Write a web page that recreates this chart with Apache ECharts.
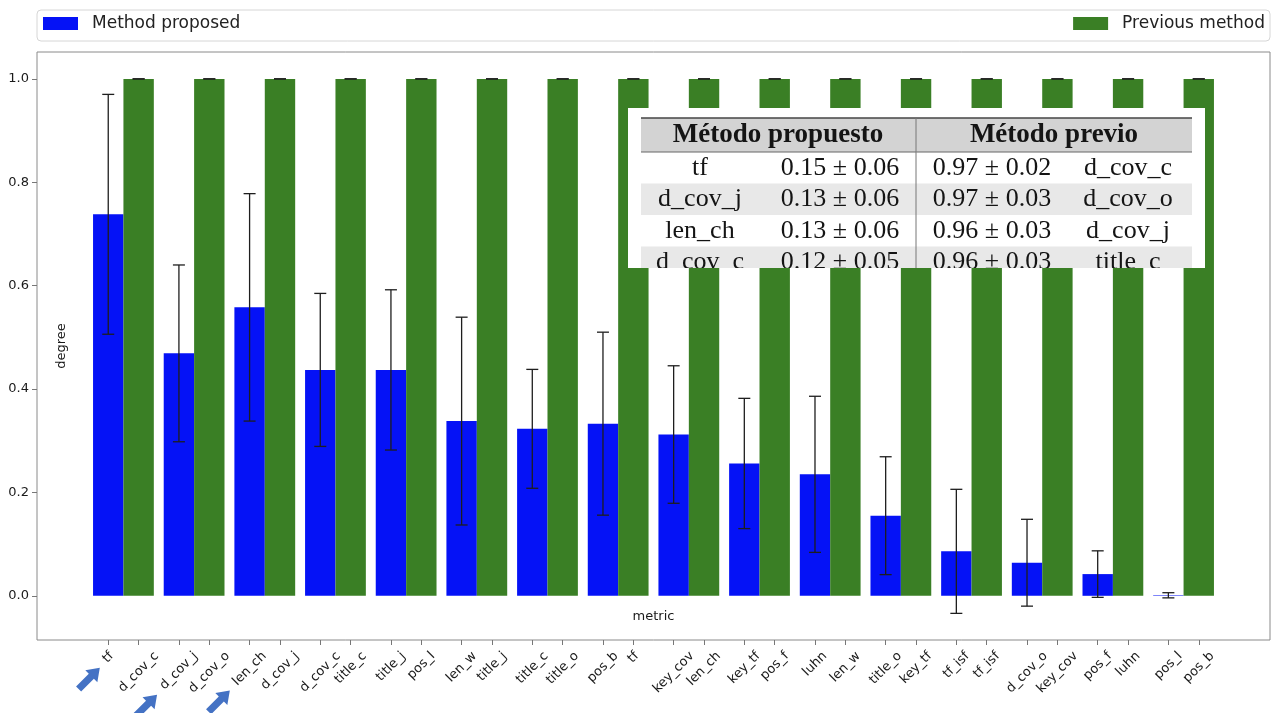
<!DOCTYPE html>
<html>
<head>
<meta charset="utf-8">
<title>degree by metric</title>
<script src="https://cdn.jsdelivr.net/npm/echarts@6/dist/echarts.min.js"></script>
<style>
  html, body { margin: 0; padding: 0; background: #ffffff; }
  #chart { width: 1272px; height: 713px; }
</style>
</head>
<body>
<div id="chart"></div>
<script>
// ---- data ----------------------------------------------------------------
const proposedLabels = ['tf', 'd_cov_j', 'len_ch', 'd_cov_c', 'title_j', 'len_w', 'title_c', 'pos_b',
  'key_cov', 'key_tf', 'luhn', 'title_o', 'tf_isf', 'd_cov_o', 'pos_f', 'pos_l'];
const previousLabels = ['d_cov_c', 'd_cov_o', 'd_cov_j', 'title_c', 'pos_l', 'title_j', 'title_o', 'tf',
  'len_ch', 'pos_f', 'len_w', 'key_tf', 'tf_isf', 'key_cov', 'luhn', 'pos_b'];
const proposedMean = [0.738, 0.469, 0.558, 0.437, 0.437, 0.338, 0.323, 0.333,
  0.312, 0.256, 0.235, 0.155, 0.086, 0.064, 0.042, 0.001];
const proposedErr = [0.232, 0.171, 0.220, 0.148, 0.155, 0.201, 0.115, 0.177,
  0.133, 0.126, 0.151, 0.114, 0.120, 0.084, 0.045, 0.005];
const previousMean = [1.0, 1.0, 1.0, 1.0, 1.0, 1.0, 1.0, 1.0,
  1.0, 1.0, 1.0, 1.0, 1.0, 1.0, 1.0, 1.0];
const previousErr = [0, 0, 0, 0, 0, 0, 0, 0, 0, 0, 0, 0, 0, 0, 0, 0];
const yTicks = [0, 0.2, 0.4, 0.6, 0.8, 1.0];
const highlighted = ['tf', 'd_cov_j', 'len_ch'];

// summary table (top rows of each ranking)
const tableHeader = ['Método propuesto', 'Método previo'];
const tableProposedName = ['tf', 'd_cov_j', 'len_ch', 'd_cov_c'];
const tableProposedScore = ['0.15 ± 0.06', '0.13 ± 0.06', '0.13 ± 0.06', '0.12 ± 0.05'];
const tablePreviousScore = ['0.97 ± 0.02', '0.97 ± 0.03', '0.96 ± 0.03', '0.96 ± 0.03'];
const tablePreviousName = ['d_cov_c', 'd_cov_o', 'd_cov_j', 'title_c'];

// ---- layout / style constants ---------------------------------------------
const BAR_WIDTH = 0.43;          // in group units
const OFFSET = BAR_WIDTH / 2;    // bar centre offset from group position
const X_MIN = -0.43 - 0.793, X_MAX = 15.43 + 0.793;
const Y_MIN = -0.0855, Y_MAX = 1.052;
const BLUE = '#0512f6';
const GREEN = '#3a7f25';
const ERR_COLOR = '#1e1e1e';
const CAP_HALF = 6;
const LABEL_FONT = 13;
const FONT = 'DejaVu Sans';

// ordered tick labels: blue then green for every group
const tickLabels = [];
const tickValues = [];
proposedLabels.forEach((p, i) => {
  tickLabels.push(p, previousLabels[i]);
  tickValues.push(i - OFFSET, i + OFFSET);
});

// per-label padding so that each rotated label is centred below its tick
const measureCtx = document.createElement('canvas').getContext('2d');
measureCtx.font = LABEL_FONT + 'px "' + FONT + '"';
const labelWidths = tickLabels.map(t => measureCtx.measureText(t).width);
const rich = {};
tickLabels.forEach((t, k) => {
  const w = labelWidths[k];
  rich['k' + k] = {
    fontSize: LABEL_FONT, fontFamily: FONT, color: '#1a1a1a',
    padding: [w / 2, w / 2, 0, 0]
  };
});

function barRenderer(offset) {
  return function (params, api) {
    const i = api.value(0), v = api.value(1), e = api.value(2);
    const xc = i + offset;
    const lt = api.coord([xc - BAR_WIDTH / 2, v]);
    const rb = api.coord([xc + BAR_WIDTH / 2, 0]);
    const top = api.coord([xc, v + e]);
    const bot = api.coord([xc, v - e]);
    const errStyle = { stroke: ERR_COLOR, lineWidth: 1.3 };
    return {
      type: 'group',
      children: [
        { type: 'rect', shape: { x: lt[0], y: Math.min(lt[1], rb[1]), width: rb[0] - lt[0], height: Math.abs(rb[1] - lt[1]) },
          style: { fill: api.visual('color') } },
        { type: 'line', shape: { x1: top[0], y1: top[1], x2: bot[0], y2: bot[1] }, style: errStyle },
        { type: 'line', shape: { x1: top[0] - CAP_HALF, y1: top[1], x2: top[0] + CAP_HALF, y2: top[1] }, style: errStyle },
        { type: 'line', shape: { x1: bot[0] - CAP_HALF, y1: bot[1], x2: bot[0] + CAP_HALF, y2: bot[1] }, style: errStyle }
      ]
    };
  };
}

// summary table drawn as an overlay box, clipped at its lower edge
function tableRenderer() {
  const box = { x: 628, y: 108, width: 577, height: 160 };
  const left = 641, right = 1192, headTop = 118, headH = 34, rowH = 31.5, divX = 916;
  const colX = [700, 840, 992, 1128];
  const headX = [778, 1054];
  const serif = 'Liberation Serif';
  const children = [
    { type: 'rect', shape: box, style: { fill: '#ffffff' } },
    { type: 'rect', shape: { x: left, y: headTop, width: right - left, height: headH }, style: { fill: '#d3d3d3' } }
  ];
  tableProposedName.forEach((n, r) => {
    const y = headTop + headH + r * rowH;
    if (r % 2 === 1) {
      children.push({ type: 'rect', shape: { x: left, y: y, width: right - left, height: rowH }, style: { fill: '#e8e8e8' } });
    }
    const cells = [n, tableProposedScore[r], tablePreviousScore[r], tablePreviousName[r]];
    cells.forEach((c, j) => {
      children.push({ type: 'text', x: colX[j], y: y + rowH / 2,
        style: { text: c, font: '26px "' + serif + '"', fill: '#141414', align: 'center', verticalAlign: 'middle' } });
    });
  });
  children.push({ type: 'line', shape: { x1: left, y1: headTop, x2: right, y2: headTop }, style: { stroke: '#444', lineWidth: 1.4 } });
  children.push({ type: 'line', shape: { x1: left, y1: headTop + headH, x2: right, y2: headTop + headH }, style: { stroke: '#666', lineWidth: 1 } });
  children.push({ type: 'line', shape: { x1: divX, y1: headTop, x2: divX, y2: box.y + box.height }, style: { stroke: '#777', lineWidth: 1 } });
  tableHeader.forEach((h, j) => {
    children.push({ type: 'text', x: headX[j], y: headTop + headH / 2,
      style: { text: h, font: 'bold 27px "' + serif + '"', fill: '#141414', align: 'center', verticalAlign: 'middle' } });
  });
  return { type: 'group', children: children, clipPath: { type: 'rect', shape: box } };
}

const chart = echarts.init(document.getElementById('chart'), null, { renderer: 'canvas' });

const option = {
  animation: false,
  backgroundColor: '#ffffff',
  textStyle: { fontFamily: FONT },
  grid: { left: 37, right: 2, top: 52, bottom: 73, containLabel: false, outerBoundsMode: 'none',
    show: true, borderColor: '#8a8a8a', borderWidth: 1, backgroundColor: 'transparent' },
  legend: [
    { data: [{ name: 'Method proposed', icon: 'rect' }], left: 43, top: 15, padding: 0,
      itemWidth: 35, itemHeight: 13, textStyle: { fontSize: 17, color: '#222', fontFamily: FONT, padding: [0, 0, 0, 9] } },
    { data: [{ name: 'Previous method', icon: 'rect' }], right: 7, top: 15, padding: 0,
      itemWidth: 35, itemHeight: 13, textStyle: { fontSize: 17, color: '#222', fontFamily: FONT, padding: [0, 0, 0, 9] } }
  ],
  graphic: [
    { type: 'rect', id: 'legendFrame', z: -1, shape: { x: 37, y: 10, width: 1233, height: 31, r: 4 },
      style: { fill: '#ffffff', stroke: '#d6d6d6', lineWidth: 1 } }
  ],
  xAxis: {
    type: 'value', min: X_MIN, max: X_MAX,
    name: 'metric', nameLocation: 'middle', nameGap: -23,
    nameTextStyle: { fontSize: 13, color: '#1a1a1a', align: 'center', verticalAlign: 'middle' },
    axisLine: { show: false, onZero: false },
    splitLine: { show: false },
    axisTick: { show: true, inside: false, length: 5, customValues: tickValues, lineStyle: { color: '#777' } },
    axisLabel: {
      customValues: tickValues, interval: 0, rotate: 45, align: 'center', verticalAlign: 'middle', margin: 14,
      hideOverlap: false, showMinLabel: true, showMaxLabel: true,
      fontSize: LABEL_FONT, color: '#1a1a1a', rich: rich,
      formatter: function (v) {
        const i = Math.round(v);
        const k = 2 * i + (v > i ? 1 : 0);
        return '{k' + k + '|' + tickLabels[k] + '}';
      }
    }
  },
  yAxis: {
    type: 'value', min: Y_MIN, max: Y_MAX,
    name: 'degree', nameLocation: 'middle', nameGap: -25,
    nameTextStyle: { fontSize: 13, color: '#1a1a1a', align: 'center', verticalAlign: 'middle' },
    axisLine: { show: false, onZero: false },
    splitLine: { show: false },
    axisTick: { show: true, inside: false, length: 5, customValues: yTicks, lineStyle: { color: '#777' } },
    axisLabel: { customValues: yTicks, margin: 8, fontSize: 13, color: '#1a1a1a', formatter: v => v.toFixed(1) }
  },
  series: [
    { name: 'Method proposed', type: 'custom', clip: true, z: 2,
      itemStyle: { color: BLUE },
      encode: { x: 0, y: 1 },
      data: proposedMean.map((v, i) => [i, v, proposedErr[i]]),
      renderItem: barRenderer(-OFFSET) },
    { name: 'Previous method', type: 'custom', clip: true, z: 2,
      itemStyle: { color: GREEN },
      encode: { x: 0, y: 1 },
      data: previousMean.map((v, i) => [i, v, previousErr[i]]),
      renderItem: barRenderer(OFFSET) },
    { name: 'summary', type: 'custom', coordinateSystem: 'none', z: 10, silent: true,
      data: [[0]],
      renderItem: tableRenderer }
  ]
};

chart.setOption(option);

// arrows pointing at the lower end of the three best-ranked proposed labels
const arrowColor = '#4472c4';
const arrows = highlighted.map((name, n) => {
  const i = proposedLabels.indexOf(name);
  const k = 2 * i;
  const w = labelWidths[k];
  const px = chart.convertToPixel({ xAxisIndex: 0 }, i - OFFSET);
  const axisY = chart.convertToPixel({ yAxisIndex: 0 }, Y_MIN);
  const tip = [px - 0.354 * w - 5, axisY + 14 + 0.707 * w + 7];
  const u = [Math.SQRT1_2, -Math.SQRT1_2];
  const nrm = [Math.SQRT1_2, Math.SQRT1_2];
  const L = 30, HL = 12, HW = 8.5, SW = 3.6;
  const tail = [tip[0] - L * u[0], tip[1] - L * u[1]];
  const base = [tip[0] - HL * u[0], tip[1] - HL * u[1]];
  const pt = (p, s) => [p[0] + s * nrm[0], p[1] + s * nrm[1]];
  return {
    type: 'polygon', id: 'arrow' + n, z: 20,
    shape: { points: [pt(tail, SW), pt(base, SW), pt(base, HW), tip, pt(base, -HW), pt(base, -SW), pt(tail, -SW)] },
    style: { fill: arrowColor }
  };
});
chart.setOption({ graphic: arrows });
</script>
</body>
</html>
